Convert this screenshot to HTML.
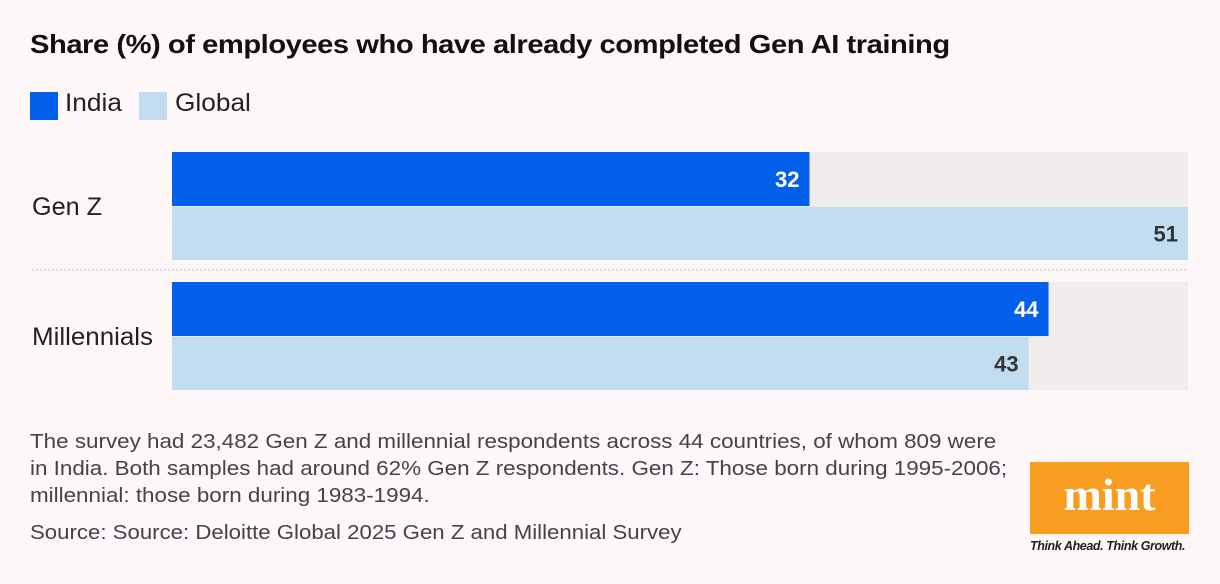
<!DOCTYPE html>
<html><head><meta charset="utf-8"><style>
body{margin:0;width:1220px;height:584px;background:#fdf8f7;font-family:"Liberation Sans",sans-serif;position:relative;overflow:hidden}
.t{position:absolute;white-space:nowrap;transform-origin:left top}
</style></head><body>
<div class="t" style="left:30px;top:29px;font-size:26px;font-weight:bold;color:#111;letter-spacing:-0.4px;transform:scaleX(1.12)">Share (%) of employees who have already completed Gen AI training</div>
<div style="position:absolute;left:30px;top:92px;width:28px;height:28px;background:#0360ea"></div>
<div class="t" style="left:65px;top:89px;font-size:25px;color:#222;transform:scaleX(1.05)">India</div>
<div style="position:absolute;left:139px;top:92px;width:28px;height:28px;background:#c2ddef"></div>
<div class="t" style="left:175px;top:89px;font-size:25px;color:#222;transform:scaleX(1.05)">Global</div>
<svg id="chart" width="1220" height="420" style="position:absolute;left:0;top:0"></svg>
<div class="t" style="left:30px;top:429px;font-size:20px;line-height:27px;color:#444;transform:scaleX(1.12)">The survey had 23,482 Gen Z and millennial respondents across 44 countries, of whom 809 were<br>in India. Both samples had around 62% Gen Z respondents. Gen Z: Those born during 1995-2006;<br>millennial: those born during 1983-1994.</div>
<div class="t" style="left:30px;top:522px;font-size:20px;color:#444;transform:scaleX(1.11)">Source: Source: Deloitte Global 2025 Gen Z and Millennial Survey</div>
<div style="position:absolute;left:1030px;top:462px;width:159px;height:72px;background:#f89d1f;color:#fff;font-family:'Liberation Serif',serif;font-weight:bold;font-size:46px;text-align:center;line-height:66px">mint</div>
<div class="t" style="left:1030px;top:539px;font-size:12.5px;font-style:italic;font-weight:bold;color:#222;letter-spacing:-0.4px">Think Ahead. Think Growth.</div>
<script>
const categories=["Gen Z","Millennials"];
const india=[32,44];
const global=[51,43];
const maxV=51;
const svg=document.getElementById('chart');
const NS='http://www.w3.org/2000/svg';
const x0=172,W=1016;
const xs=v=>v/maxV*W;
const groupTop=[152,282];
function mk(t,a){const e=document.createElementNS(NS,t);for(const k in a)e.setAttribute(k,a[k]);svg.appendChild(e);return e;}
categories.forEach((c,i)=>{
  const y=groupTop[i];
  const tr=mk('rect',{x:x0,y:y,width:W,height:108,fill:'#f2eded'});
  
  
  const lb=mk('text',{x:32,y:y+63,'font-size':25,fill:'#222',textLength:c.length>5?121:70,lengthAdjust:'spacingAndGlyphs'});lb.textContent=c;
  
  
  [[india[i],'#0360ea','#fff',y,54],[global[i],'#c2ddef','#333',y+55,53]].forEach(([v,f,tc,by,h],j)=>{
    const r=mk('rect',{x:x0,y:by,width:xs(v),height:h,fill:f});
    
    
    const t=mk('text',{x:x0+xs(v)-10,y:by+h/2+8,'font-size':22,'font-weight':'bold',fill:tc,'text-anchor':'end'});t.textContent=v;
    
    
  });
});
const sep=mk('line',{x1:32,x2:1188,y1:270,y2:270,stroke:'#bbb','stroke-dasharray':'2 2'});


</script>
</body></html>
